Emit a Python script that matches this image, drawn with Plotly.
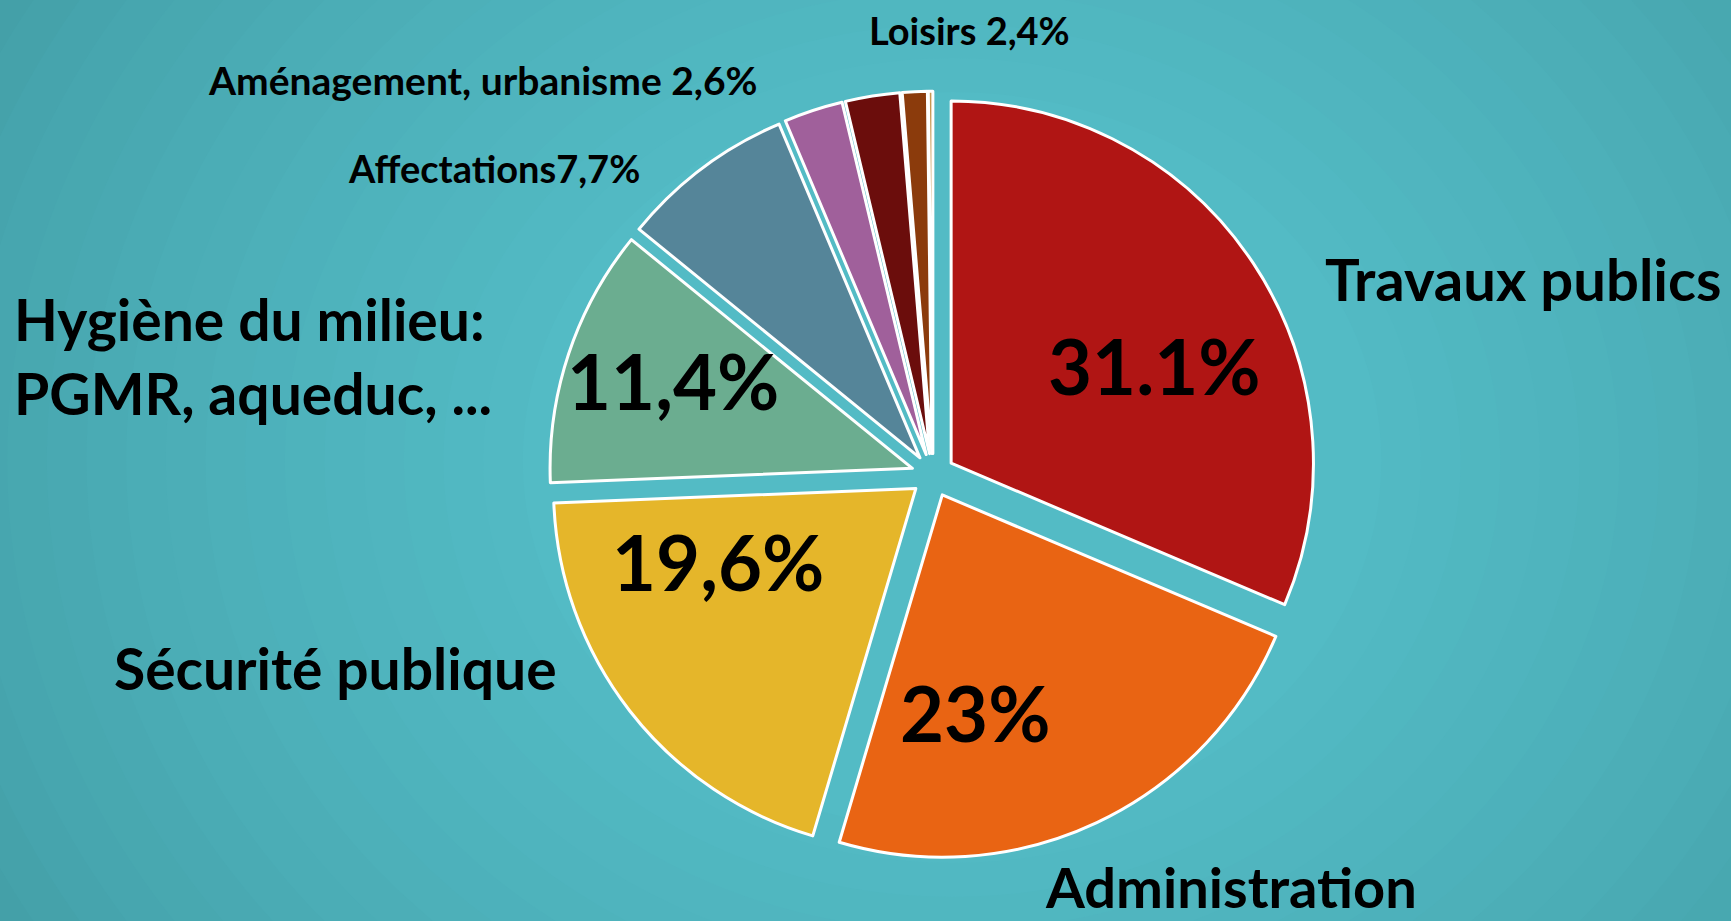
import plotly.graph_objects as go

# ---- data ----
categories = ["Travaux publics", "Administration", "Sécurité publique",
              "Hygiène du milieu: PGMR, aqueduc, ...", "Affectations",
              "Aménagement, urbanisme", "Loisirs", "Autres", "Divers"]
values = [31.1, 23.0, 19.6, 11.4, 7.7, 2.6, 2.4, 1.1, 0.2]
colors = ["#B01514", "#E96413", "#E5B62A", "#6BAD90", "#558599",
          "#A0609B", "#6B0D0C", "#8B3B0C", "#C8964E"]
pulls = [0.06, 0.06, 0.06, 0.06, 0.06, 0.06, 0.06, 0.06, 0.06]

W, H = 1731, 921

fig = go.Figure()
fig.add_trace(go.Pie(
    labels=categories, values=values, sort=False, direction="clockwise",
    rotation=0, pull=pulls, textinfo="none", hoverinfo="label+percent",
    marker=dict(colors=colors, line=dict(color="white", width=3)),
    domain=dict(x=[0.317, 0.761], y=[0.067, 0.901]), showlegend=False,
))

# background radial gradient (decorative)
shapes = []
n = 24
c0 = (0x39, 0x8B, 0x92)
c1 = (0x53, 0xBB, 0xC5)
for i in range(n):
    t = i / (n - 1)
    r = 1.25 - 0.85 * t
    col = tuple(int(c0[k] + (c1[k] - c0[k]) * (t ** 0.6)) for k in range(3))
    cx, cy = 0.55, 0.5
    shapes.append(dict(type="circle", xref="paper", yref="paper", layer="below",
                       x0=cx - r * 0.62, x1=cx + r * 0.62, y0=cy - r, y1=cy + r,
                       fillcolor="rgb(%d,%d,%d)" % col, line=dict(width=0)))

FONT = "Lato"

def ann(text, px, py, size, xanchor="center"):
    return dict(text=text, x=px / W, y=1 - py / H, xref="paper", yref="paper",
                xanchor=xanchor, yanchor="middle", showarrow=False,
                align=xanchor if xanchor != "center" else "center",
                font=dict(family=FONT, size=size, color="black", weight="bold"))

annotations = [
    ann("Loisirs 2,4%", 969, 30, 38),
    ann("Aménagement, urbanisme 2,6%", 483, 80, 39),
    ann("Affectations7,7%", 494, 168, 38),
    ann("Travaux publics", 1523, 278, 58),
    ann("Hygiène du milieu:<br>PGMR, aqueduc, ...", 12, 356, 57, "left"),
    ann("Sécurité publique", 335, 668, 57),
    ann("Administration", 1231, 886, 56),
    ann("31.1%", 1154, 366, 76),
    ann("11,4%", 673, 381, 76),
    ann("19,6%", 718, 561, 76),
    ann("23%", 975, 712, 76),
]

fig.update_layout(
    width=W, height=H, margin=dict(l=0, r=0, t=0, b=0),
    paper_bgcolor="#398B92", plot_bgcolor="rgba(0,0,0,0)",
    shapes=shapes, annotations=annotations,
)

fig.write_html("out.html", config={"displayModeBar": False},
               post_script="document.body.style.margin='0';document.body.style.overflow='hidden';")
